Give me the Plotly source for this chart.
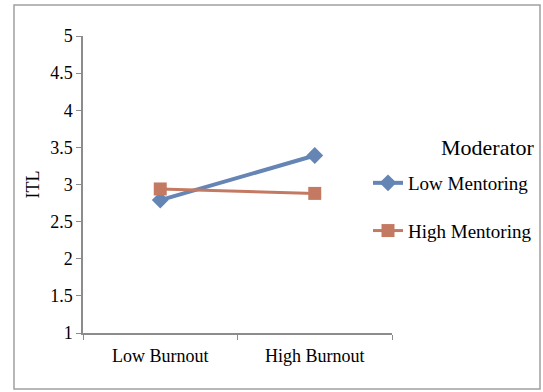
import plotly.graph_objects as go

categories = ["Low Burnout", "High Burnout"]
low_mentoring = [2.79, 3.39]
high_mentoring = [2.94, 2.88]
y_ticks = [1, 1.5, 2, 2.5, 3, 3.5, 4, 4.5, 5]
y_tick_labels = ["1", "1.5", "2", "2.5", "3", "3.5", "4", "4.5", "5"]

FONT = "Liberation Serif, Times New Roman, serif"
W, H = 543, 392
L, R, T, B = 83, 151, 36, 59
pw, ph = W - L - R, H - T - B

def px_x(x):
    return (x - L) / pw

def px_y(y):
    return (H - B - y) / ph

fig = go.Figure()
fig.add_trace(go.Scatter(
    x=categories, y=low_mentoring, name="Low Mentoring", mode="lines+markers",
    line=dict(color="#6585B5", width=4),
    marker=dict(symbol="diamond", size=13, color="#6585B5"),
    legendgroup="a",
))
fig.add_trace(go.Scatter(
    x=categories, y=high_mentoring, name="High Mentoring", mode="lines+markers",
    line=dict(color="#C47A62", width=3),
    marker=dict(symbol="square", size=13, color="#C47A62"),
    legendgroup="b",
))

fig.update_layout(
    width=W, height=H,
    margin=dict(l=L, r=R, t=T, b=B, pad=0, autoexpand=False),
    paper_bgcolor="white", plot_bgcolor="white",
    font=dict(family=FONT, size=18, color="black"),
    showlegend=True,
    legend=dict(
        x=px_x(368), xanchor="left", y=px_y(164), yanchor="top",
        font=dict(family=FONT, size=19, color="black"),
        tracegroupgap=20, bgcolor="rgba(0,0,0,0)",
        itemclick=False,
    ),
    xaxis=dict(
        type="category", range=[-0.5, 1.5],
        showline=True, linecolor="#8C8C8C", linewidth=1.5,
        ticks="outside", tickson="boundaries", ticklen=5, tickcolor="#8C8C8C",
        showgrid=False, zeroline=False, ticklabelstandoff=6,
        tickfont=dict(family=FONT, size=18, color="black"),
    ),
    yaxis=dict(
        range=[1, 5], tickvals=y_ticks, ticktext=y_tick_labels,
        showline=True, linecolor="#8C8C8C", linewidth=1.5,
        ticks="outside", ticklen=5, tickcolor="#8C8C8C",
        showgrid=False, zeroline=False,
        tickfont=dict(family=FONT, size=18, color="black"),
        title=dict(text="ITL", font=dict(family=FONT, size=18, color="black"), standoff=6),
    ),
    annotations=[dict(
        text="Moderator", xref="paper", yref="paper",
        x=px_x(537), y=px_y(147), xanchor="right", yanchor="middle",
        showarrow=False, font=dict(family=FONT, size=22, color="black"),
    )],
    shapes=[dict(
        type="rect", xref="paper", yref="paper",
        x0=px_x(14), x1=px_x(540), y0=px_y(389), y1=px_y(5),
        line=dict(color="#A0A0A0", width=1.5), fillcolor="rgba(0,0,0,0)",
        layer="below",
    )],
)

fig.write_html(
    "out.html",
    config={"displayModeBar": False},
    post_script="document.body.style.margin='0';document.body.style.overflow='hidden';",
)
